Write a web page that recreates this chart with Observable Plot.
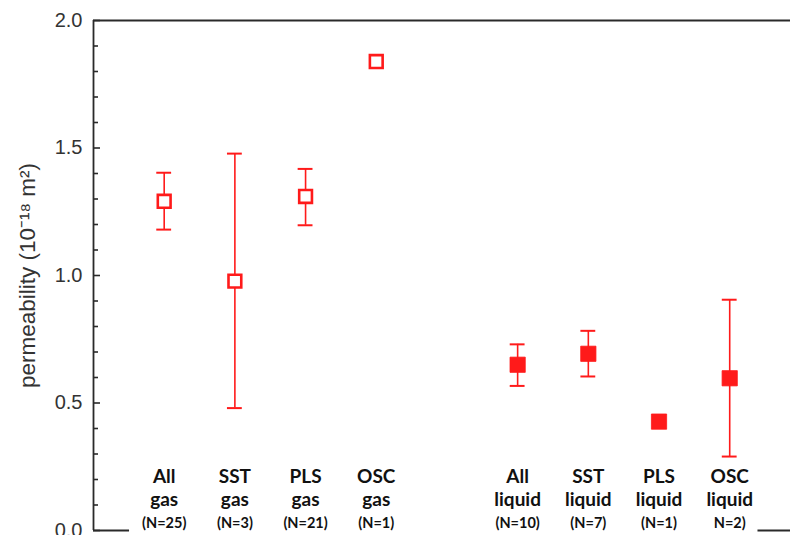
<!DOCTYPE html>
<html>
<head>
<meta charset="utf-8">
<script src="https://cdn.jsdelivr.net/npm/d3@7"></script>
<script src="https://cdn.jsdelivr.net/npm/@observablehq/plot@0.6"></script>
<style>
  html, body { margin: 0; padding: 0; background: #fff; }
  #chart { width: 790px; height: 535px; overflow: hidden; }
</style>
</head>
<body>
<div id="chart"></div>
<script>
// ---- data ----
const groupWord = ["All", "SST", "PLS", "OSC", "All", "SST", "PLS", "OSC"];
const phase = ["gas", "gas", "gas", "gas", "liquid", "liquid", "liquid", "liquid"];
const nLabels = ["(N=25)", "(N=3)", "(N=21)", "(N=1)", "(N=10)", "(N=7)", "(N=1)", "N=2)"];
const slot = [0, 1, 2, 3, 5, 6, 7, 8];
const meanPerm = [1.291, 0.978, 1.31, 1.839, 0.65, 0.693, 0.427, 0.597];
const lowerPerm = [1.18, 0.48, 1.197, null, 0.567, 0.604, null, 0.29];
const upperPerm = [1.403, 1.478, 1.418, null, 0.73, 0.783, null, 0.905];
const majorTicks = [0, 0.5, 1.0, 1.5, 2.0];
const minorTicks = [0.1, 0.2, 0.3, 0.4, 0.6, 0.7, 0.8, 0.9, 1.1, 1.2, 1.3, 1.4, 1.6, 1.7, 1.8, 1.9];
const yLabel = "permeability (10\u207B\u00B9\u2078 m\u00B2)";

const rows = slot.map((s, i) => ({
  pos: s,
  label: groupWord[i] + "\n" + phase[i],
  n: nLabels[i],
  phase: phase[i],
  mean: meanPerm[i],
  lo: lowerPerm[i],
  hi: upperPerm[i]
}));
const withErr = rows.filter(d => d.lo != null);
const gasRows = rows.filter(d => d.phase === "gas");
const liqRows = rows.filter(d => d.phase === "liquid");

const xDomain = [-1, 8.86];
const yDomain = [0, 2];
const capHalf = 0.105;
const red = "#ff1a1a";
const axisColor = "#2a2a2a";

const firstPos = d3.min(slot), lastPos = d3.max(slot);
const bottomSegments = [
  {x1: xDomain[0], x2: firstPos - 0.49},
  {x1: lastPos + 0.4, x2: xDomain[1]}
];

const chart = Plot.plot({
  width: 790,
  height: 535,
  marginTop: 20,
  marginBottom: 5,
  marginLeft: 93,
  marginRight: 0,
  style: {fontFamily: "'Liberation Sans', Arial, sans-serif", fontSize: "20px", color: "#333", background: "#fff", overflow: "visible"},
  x: {domain: xDomain, axis: null},
  y: {domain: yDomain},
  marks: [
    // axes frame
    Plot.ruleX([xDomain[0]], {y1: yDomain[0], y2: yDomain[1], stroke: axisColor, strokeWidth: 1.8}),
    Plot.ruleY([yDomain[1]], {x1: xDomain[0], x2: xDomain[1], stroke: axisColor, strokeWidth: 1.8}),
    Plot.ruleY(bottomSegments, {y: yDomain[0], x1: "x1", x2: "x2", stroke: axisColor, strokeWidth: 1.8}),
    Plot.axisY({ticks: majorTicks, tickSize: -7, tickPadding: 18, strokeWidth: 1.6, stroke: axisColor,
      tickFormat: d3.format(".1f"), fontSize: 20, fill: "#333", label: null}),
    Plot.axisY({ticks: minorTicks, tickSize: -5, strokeWidth: 1.6, stroke: axisColor, tickFormat: null, label: null, text: null}),
    // y-axis title
    Plot.text([yLabel], {frameAnchor: "left", textAnchor: "middle", dx: -66, rotate: -90, fontSize: 22.5, fill: "#333",
      fontFamily: "'Liberation Sans', Arial, sans-serif"}),
    // error bars
    Plot.ruleX(withErr, {x: "pos", y1: "lo", y2: "hi", stroke: red, strokeWidth: 1.6}),
    Plot.ruleY(withErr, {y: "hi", x1: d => d.pos - capHalf, x2: d => d.pos + capHalf, stroke: red, strokeWidth: 2}),
    Plot.ruleY(withErr, {y: "lo", x1: d => d.pos - capHalf, x2: d => d.pos + capHalf, stroke: red, strokeWidth: 2}),
    // markers
    Plot.dot(gasRows, {x: "pos", y: "mean", symbol: "square", r: 7.2, fill: "#fff", stroke: red, strokeWidth: 2.6}),
    Plot.dot(liqRows, {x: "pos", y: "mean", symbol: "square", r: 8.6, fill: red, stroke: red, strokeWidth: 0.8}),
    // category labels
    Plot.text(rows, {x: "pos", frameAnchor: "bottom", text: "label", lineAnchor: "bottom", lineHeight: 1.2,
      dy: -25, fontFamily: "Lato, 'Open Sans', sans-serif", fontWeight: "bold", fontSize: 19, fill: "#111"}),
    Plot.text(rows, {x: "pos", frameAnchor: "bottom", text: "n", lineAnchor: "bottom",
      dy: -3, fontFamily: "Lato, 'Open Sans', sans-serif", fontWeight: "bold", fontSize: 14.5, fill: "#111"})
  ]
});
document.getElementById("chart").appendChild(chart);
</script>
</body>
</html>
